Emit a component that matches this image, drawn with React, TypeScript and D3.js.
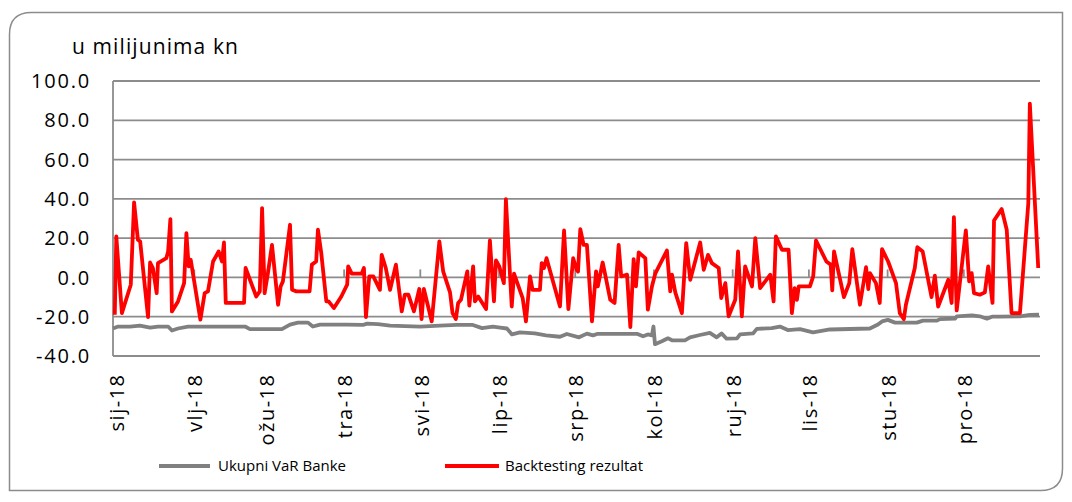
import React from "react";
import * as d3 from "d3";

// Day offsets from 31 Dec 2017 and values
const varDays = [0, 2.0, 6.7, 10.6, 14.6, 17.7, 21.7, 23.2, 25.6, 29.5, 52.0, 53.9, 66.5, 69.7, 72.8, 76.8, 78.7, 81.5, 92.1, 98.4, 100.0, 104.3, 109.1, 120.9, 128.7, 135.4, 141.7, 145.3, 149.6, 152.4, 155.1, 157.1, 160.2, 166.1, 170.5, 176.0, 178.7, 183.5, 186.6, 189.0, 190.9, 206.3, 208.7, 210.6, 212.2, 212.8, 213.4, 216.1, 218.5, 220.1, 225.2, 227.2, 231.1, 235.0, 237.7, 239.6, 241.6, 245.7, 246.9, 252.0, 253.5, 259.4, 262.6, 265.7, 270.5, 275.6, 282.3, 298.0, 301.2, 302.8, 305.1, 307.9, 316.5, 318.9, 324.4, 325.6, 331.5, 332.3, 338.2, 341.3, 344.1, 346.1, 349.2, 357.1, 361.0, 364.6];
const varValues = [-26, -25, -25, -24.5, -25.5, -25, -25, -27, -26, -25, -25, -26.3, -26.3, -24, -23, -23, -25, -24, -24, -24.2, -23.5, -23.8, -24.5, -25, -24.5, -24.2, -24.2, -25.8, -25, -25.5, -26, -29, -28, -28.5, -29.5, -30.2, -28.8, -30.5, -28.6, -29.5, -28.7, -28.7, -30, -29, -29.5, -25, -34, -32.5, -31, -32, -32, -30.5, -29.3, -28.2, -30.5, -28.5, -31.2, -31, -29, -28.5, -26.2, -25.8, -25, -26.8, -26.3, -28, -26.5, -26, -24, -22.4, -21.6, -23, -23, -22, -22, -21.2, -21, -19.8, -19.3, -19.8, -21, -20, -20, -19.8, -19.1, -19];

const btDays = [0.7, 1.3, 3.5, 7.0, 8.3, 9.8, 10.7, 13.8, 14.6, 15.7, 17.2, 17.7, 21.0, 21.7, 22.6, 23.2, 25.6, 28.0, 28.9, 29.8, 30.6, 34.4, 36.1, 37.4, 39.4, 41.6, 42.9, 43.7, 44.4, 51.6, 52.2, 56.4, 57.8, 58.7, 59.7, 61.0, 62.6, 65.0, 66.0, 66.9, 69.7, 70.5, 72.2, 77.4, 78.3, 80.0, 80.7, 82.0, 84.0, 84.9, 87.0, 89.9, 92.2, 92.6, 94.0, 97.9, 98.8, 99.6, 100.9, 102.5, 105.1, 105.8, 107.4, 109.1, 111.4, 113.7, 114.9, 116.3, 118.5, 120.6, 121.5, 122.4, 125.5, 128.5, 130.0, 132.7, 133.7, 135.0, 135.9, 137.0, 139.5, 140.3, 141.8, 142.5, 143.8, 146.9, 148.4, 150.0, 150.8, 152.1, 153.9, 154.7, 157.0, 157.9, 161.3, 162.6, 164.2, 165.2, 168.1, 168.8, 169.7, 170.7, 176.0, 177.6, 179.3, 181.2, 182.5, 183.1, 184.0, 185.3, 186.6, 188.6, 190.2, 190.9, 192.8, 193.8, 195.8, 197.5, 199.1, 200.1, 202.4, 203.7, 205.0, 205.9, 207.0, 209.6, 210.6, 212.2, 213.5, 218.1, 219.4, 220.1, 221.4, 224.0, 225.7, 227.3, 231.2, 232.6, 234.3, 235.8, 238.5, 239.5, 241.1, 242.4, 245.0, 246.1, 247.6, 248.9, 251.6, 252.9, 254.8, 258.8, 260.1, 261.0, 263.4, 266.0, 267.3, 268.4, 269.3, 270.0, 274.4, 275.7, 276.8, 280.9, 282.6, 283.2, 283.9, 287.8, 289.9, 291.1, 294.1, 296.5, 297.4, 298.0, 300.4, 301.9, 302.8, 305.2, 308.3, 309.8, 311.4, 312.2, 315.7, 316.7, 318.8, 322.3, 323.6, 324.9, 328.9, 330.2, 331.1, 332.2, 335.8, 337.1, 338.1, 339.0, 341.3, 343.3, 344.6, 346.3, 346.9, 349.9, 351.9, 353.8, 357.1, 360.4, 361.0, 364.3];
const btValues = [-19, 20.9, -18.2, -3.7, 38.2, 19.2, 18.3, -20.2, 7.6, 4.8, -8, 7.3, 9.8, 13.2, 29.7, -17.3, -12.2, -2.9, 22.5, 5.6, 9, -21.5, -8, -7.1, 8.1, 13.2, 8.1, 17.8, -13, -13, 4.8, -9.7, -7.1, 35.3, -8, 2.2, 16.6, -13.9, -4.6, -2, 26.8, -6.3, -7.1, -7.1, 6.5, 8.1, 24.3, 12.4, -12.2, -12.2, -15.6, -9.7, -3.7, 5.6, 1.9, 1.9, 4.8, -20.2, 0.5, 0.5, -6.3, 11.5, 4.8, -6.3, 6.5, -17.3, -8.8, -8.8, -17.3, -5.9, -21.2, -5.9, -22.4, 18.3, 3.1, -7.6, -18.2, -21.2, -13, -11.4, 3.1, -14.4, 5.6, -12.2, -9.7, -16.1, 18.8, -12.2, 8.7, 5.6, -2.9, 39.8, -14.8, 1.9, -10.5, -22.4, 0.5, -6.3, -6.3, 7.3, 4.8, 9.8, -14.8, 23.9, -16.1, 9.8, 4, 3, 24.6, 16.6, 16.6, -22.4, 3.1, -4.6, 7.6, 1.4, -11.4, -13, 16.6, 0.5, 1.4, -25.3, 9.3, -4.6, 12.7, 9.8, -16.4, -4.6, 1.9, 13.7, -7.1, 1.4, -7.6, -18.2, 17.5, -1.2, 17.8, 3.9, 11.5, 7.3, 4.8, -10.5, -2.9, -19.8, -11.4, 13.2, -19.8, 5.6, -4.6, 20, -5.4, 1.4, -12.2, 20.9, 14.1, 14.1, -18.2, -5.4, -11.4, -4.6, -4.6, 0.5, 18.8, 8.1, 6.5, -6.6, 13.2, -10, -2.9, 14.4, -13.9, 5.2, -5.9, 2.2, -2.9, -13, 14.4, 8.1, -2.9, -18.2, -21.2, -13.9, 4.8, 15.4, 13.2, -10, 0.9, -14.8, -1.2, -13, 30.7, -16.8, 23.9, -2, 2.2, -8, -8.8, -7.6, 5.6, -13, 29, 34.8, 24.3, -18.2, -18.2, 37.8, 88.5, 4.8];

const monthLabels = ["sij-18", "vlj-18", "ožu-18", "tra-18", "svi-18", "lip-18", "srp-18", "kol-18", "ruj-18", "lis-18", "stu-18", "pro-18"];
const yTicks = [-40, -20, 0, 20, 40, 60, 80, 100];
const seriesNames = ["Ukupni VaR Banke", "Backtesting rezultat"];
const unitLabel = "u milijunima kn";

const BASE = Date.UTC(2017, 11, 31);
const toDate = (d: number) => new Date(BASE + d * 864e5);

export default function App() {
  const W = 1072, H = 502;
  const x = d3.scaleUtc().domain([toDate(0), toDate(365)]).range([113, 1040]);
  const y = d3.scaleLinear().domain([-40, 100]).range([356, 81]);
  const line = d3.line<[number, number]>().x(d => x(toDate(d[0]))).y(d => y(d[1]));
  const varPts = varDays.map((d, i) => [d, varValues[i]] as [number, number]);
  const btPts = btDays.map((d, i) => [d, btValues[i]] as [number, number]);
  const months = d3.utcMonth.range(new Date(Date.UTC(2018, 0, 1)), new Date(Date.UTC(2019, 0, 1)));
  const font = "'Open Sans', 'Noto Sans', sans-serif";
  const grid = "#8c8c8c";
  const fx0 = 9.5, fy0 = 12.5, fx1 = 1062.5, fy1 = 490.5, r = 22;
  const framePath = `M${fx0},${fy0 + r} Q${fx0},${fy0} ${fx0 + r},${fy0} L${fx1},${fy0} L${fx1},${fy1 - r} Q${fx1},${fy1} ${fx1 - r},${fy1} L${fx0},${fy1} Z`;
  return (
    <div style={{ position: "absolute", left: 0, top: 0 }}>
      <svg width={W} height={H} style={{ display: "block", background: "#fff" }}>
        <path d={framePath} fill="#fff" stroke="#8c8c8c" strokeWidth={1.5} />
        <text x={72} y={54} fontFamily={font} fontSize={21} letterSpacing={1.1} fill="#000">{unitLabel}</text>
        {yTicks.map(t => (
          <g key={t}>
            <line x1={113} x2={1040} y1={y(t)} y2={y(t)} stroke={grid} strokeWidth={1.8} />
            <text x={91} y={y(t)} dy="0.36em" textAnchor="end" fontFamily={font} fontSize={20} letterSpacing={1.8} fill="#000">{t.toFixed(1)}</text>
          </g>
        ))}
        <line x1={113} x2={113} y1={y(100)} y2={y(-40)} stroke={grid} strokeWidth={1.8} />
        {months.map((m, i) => (
          <g key={i}>
            <line x1={x(m)} x2={x(m)} y1={y(0)} y2={y(0) - 8} stroke={grid} strokeWidth={1.8} />
            <text transform={`translate(${x(m) + 1},373.5) rotate(-90)`} dy="0.36em" textAnchor="end" fontFamily={font} fontSize={20} letterSpacing={1.5} fill="#000">{monthLabels[i]}</text>
          </g>
        ))}
        <path d={line(varPts) || ""} fill="none" stroke="#808080" strokeWidth={3.8} strokeLinejoin="round" />
        <path d={line(btPts) || ""} fill="none" stroke="#ff0000" strokeWidth={3.8} strokeLinejoin="round" />
        <line x1={159} x2={210} y1={466} y2={466} stroke="#808080" strokeWidth={3.8} />
        <text x={218} y={471} fontFamily={font} fontSize={15} fill="#000">{seriesNames[0]}</text>
        <line x1={445} x2={499} y1={466} y2={466} stroke="#ff0000" strokeWidth={3.8} />
        <text x={505} y={471} fontFamily={font} fontSize={15} fill="#000">{seriesNames[1]}</text>
      </svg>
    </div>
  );
}
